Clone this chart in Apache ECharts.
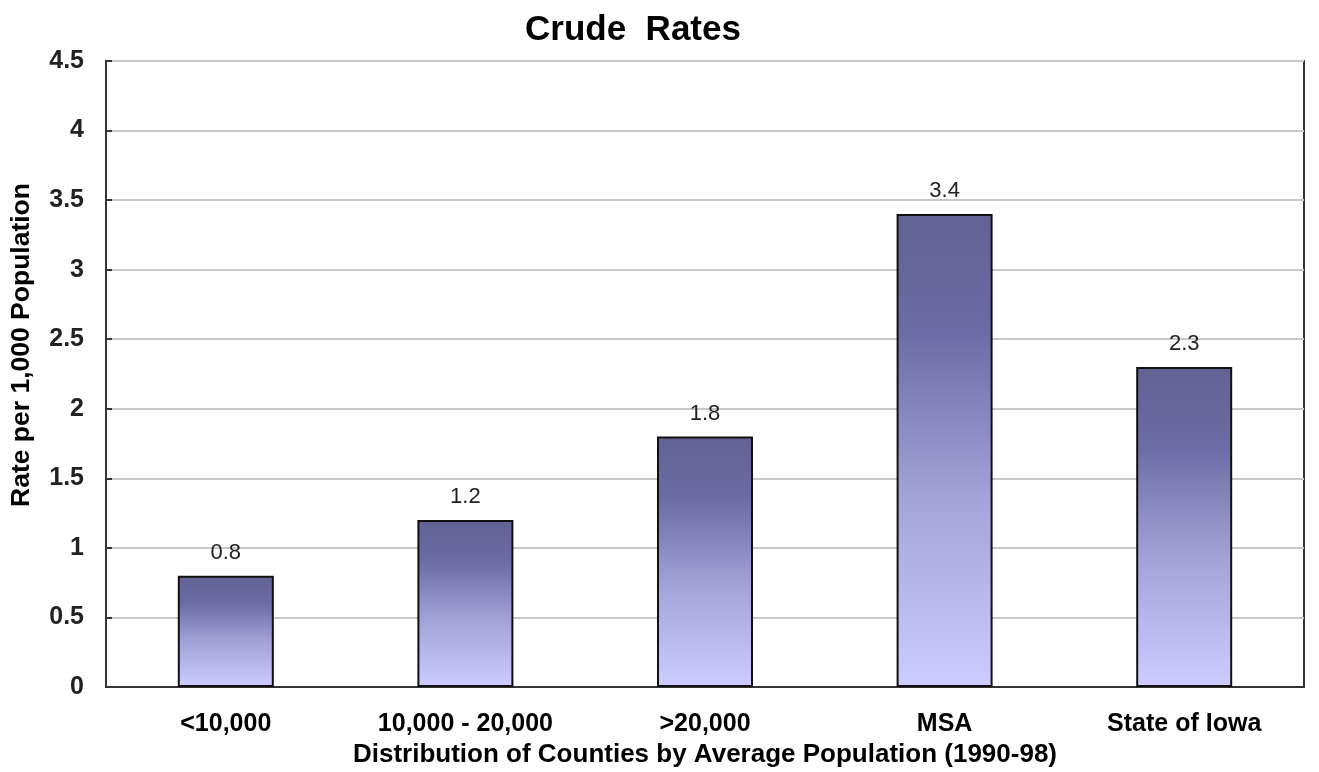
<!DOCTYPE html>
<html><head><meta charset="utf-8">
<script src="https://cdn.jsdelivr.net/npm/echarts@6/dist/echarts.min.js"></script>
<style>html,body{margin:0;padding:0;background:#fff}#c{width:1319px;height:772px}</style>
</head><body><div id="c"></div>
<script>
const categories = ['<10,000', '10,000 - 20,000', '>20,000', 'MSA', 'State of Iowa'];
const values = [0.8, 1.2, 1.8, 3.4, 2.3];
const yTicks = [0, 0.5, 1, 1.5, 2, 2.5, 3, 3.5, 4, 4.5];
const chart = echarts.init(document.getElementById('c'));
chart.setOption({
  animation: false,
  backgroundColor: '#fff',
  title: {
    text: 'Crude  Rates', left: 628, top: 8, textAlign: 'center',
    textStyle: {fontFamily: 'Liberation Sans, Arial', fontWeight: 'bold', fontSize: 35, color: '#000'}
  },
  graphic: [{
    type: 'text', x: 22, y: 345, rotation: Math.PI / 2,
    style: {text: 'Rate per 1,000 Population', fontFamily: 'Liberation Sans, Arial', fontWeight: 'bold', fontSize: 26.5, fill: '#000', align: 'center', verticalAlign: 'middle'}
  }],
  grid: {left: 106, right: 15, top: 61, bottom: 85, outerBoundsMode: 'none', containLabel: false, show: true, borderColor: '#333', borderWidth: 2},
  xAxis: {
    type: 'category', data: categories,
    axisLine: {show: true, lineStyle: {color: '#333', width: 2}},
    axisTick: {show: false},
    axisLabel: {margin: 25, fontFamily: 'Liberation Sans, Arial', fontWeight: 'bold', fontSize: 25, color: '#000'},
    name: 'Distribution of Counties by Average Population (1990-98)',
    nameLocation: 'middle', nameGap: 54,
    nameTextStyle: {fontFamily: 'Liberation Sans, Arial', fontWeight: 'bold', fontSize: 26, color: '#000'}
  },
  yAxis: {
    type: 'value', min: 0, max: 4.5, interval: 0.5,
    axisLine: {show: true, lineStyle: {color: '#333', width: 2}},
    axisTick: {show: true, inside: true, length: 6, lineStyle: {color: '#333', width: 2}},
    splitLine: {show: true, lineStyle: {color: '#c8c8c8', width: 2}},
    axisLabel: {
      margin: 22, fontFamily: 'Liberation Sans Narrow, Liberation Sans', fontWeight: 'bold', fontSize: 25, color: '#222',
      formatter: v => yTicks.includes(v) ? String(v) : ''
    }
  },
  series: [{
    type: 'bar', data: values, barWidth: 96,
    itemStyle: {
      borderColor: '#111', borderWidth: 2,
      color: new echarts.graphic.LinearGradient(0, 0, 0, 1, [
        {offset: 0, color: '#626293'},
        {offset: 0.25, color: '#6c6ca6'},
        {offset: 0.6, color: '#a3a3d9'},
        {offset: 1, color: '#ccccff'}
      ])
    },
    label: {show: true, position: 'top', distance: 12, fontFamily: 'Liberation Sans, Arial', fontSize: 22, color: '#222'}
  }]
});
</script></body></html>
